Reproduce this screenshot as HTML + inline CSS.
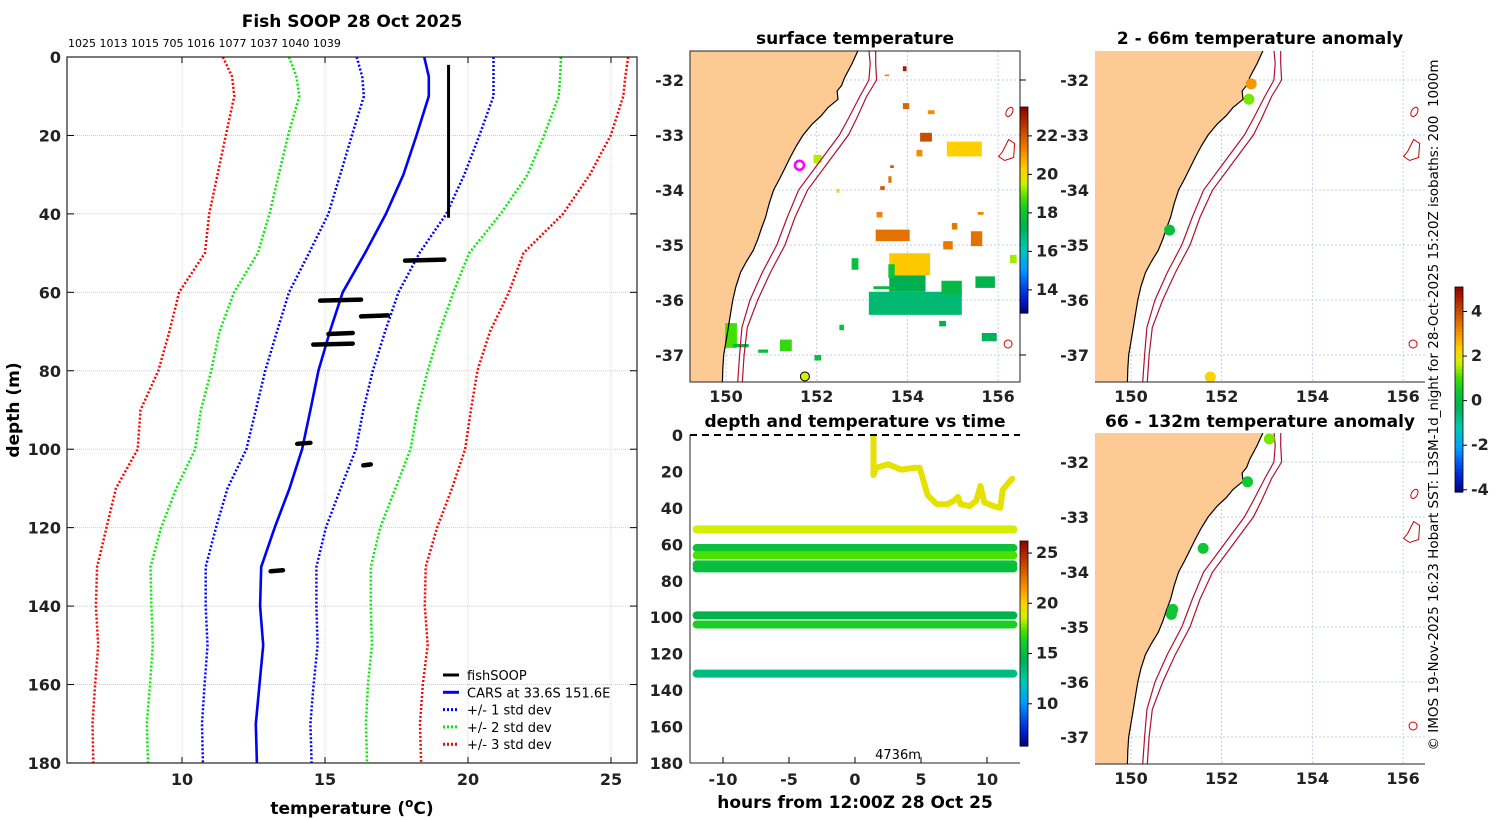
<!DOCTYPE html>
<html><head><meta charset="utf-8">
<style>
html,body{margin:0;padding:0;background:#fff;}
svg{display:block;font-family:"DejaVu Sans","Liberation Sans",sans-serif;}
.tk{font-size:16px;font-weight:bold;fill:#222;}
.ttl{font-size:17px;font-weight:bold;fill:#000;}
</style></head>
<body>
<svg id="fig" width="1500" height="820" viewBox="0 0 1500 820" xmlns="http://www.w3.org/2000/svg">
<defs>
<clipPath id="clipMain"><rect x="67" y="57" width="570" height="706"/></clipPath>
<clipPath id="clipM1"><rect x="690" y="51" width="330" height="331"/></clipPath>
<clipPath id="clipM2"><rect x="1095" y="51" width="330" height="331"/></clipPath>
<clipPath id="clipM3"><rect x="1095" y="433" width="330" height="331"/></clipPath>
<clipPath id="clipT"><rect x="690" y="433" width="330" height="332"/></clipPath>
</defs>
</svg>
<script>
// ---------- main profile data ----------
const profDepths = [0,5,10,20,30,40,50,60,70,80,90,100,110,120,130,140,150,160,170,180];
const carsMean = [18.47,18.63,18.63,18.2,17.74,17.13,16.4,15.62,15.17,14.77,14.49,14.2,13.76,13.24,12.77,12.73,12.84,12.71,12.58,12.62];
const std1Lo = [16.11,16.3,16.36,15.94,15.53,15.12,14.44,13.74,13.32,12.91,12.58,12.25,11.59,11.19,10.83,10.83,10.89,10.79,10.7,10.73];
const std1Hi = [20.89,20.89,20.89,20.4,19.87,19.24,18.3,17.57,17.1,16.67,16.34,16.08,15.55,15.03,14.7,14.7,14.74,14.6,14.49,14.53];
const std2Lo = [13.74,14.0,14.1,13.71,13.38,13.06,12.65,11.82,11.31,11.02,10.66,10.46,9.8,9.27,8.9,8.93,8.98,8.88,8.77,8.81];
const std2Hi = [23.25,23.22,23.17,22.66,22.08,21.14,20.04,19.49,19.0,18.59,18.23,17.99,17.46,16.93,16.6,16.6,16.64,16.5,16.43,16.47];
const std3Lo = [11.43,11.75,11.83,11.53,11.24,10.95,10.8,9.9,9.56,9.17,8.55,8.45,7.69,7.36,7.03,6.99,7.07,6.96,6.87,6.9];
const std3Hi = [25.6,25.5,25.43,24.99,24.26,23.32,21.94,21.43,20.77,20.33,20.1,19.9,19.44,18.92,18.52,18.49,18.59,18.42,18.32,18.36];
// fishSOOP obs: segments [tempStart, tempEnd, depth]
const obsT1 = [17.8,14.83,16.26,15.12,14.59,14.03,16.34,13.1];
const obsT2 = [19.17,16.26,17.2,15.97,15.97,14.49,16.6,13.53];
const obsDepth = [51.8,62,66,70.5,73.2,98.5,104,131];
const surfT = 19.32, surfD1 = 2, surfD2 = 41;
const depthTicks = [0,20,40,60,80,100,120,140,160,180];
const tempTicks = [10,15,20,25];
// ---------- map data ----------
const coastLat = [-31.45,-31.7,-31.95,-32.1,-32.2,-32.35,-32.5,-32.65,-32.8,-33.0,-33.2,-33.4,-33.6,-33.8,-34.0,-34.25,-34.5,-34.7,-34.9,-35.1,-35.3,-35.5,-35.75,-36.0,-36.25,-36.5,-36.75,-37.0,-37.25,-37.5,-37.6];
const coastLon = [152.92,152.78,152.62,152.55,152.45,152.47,152.25,152.1,151.9,151.7,151.55,151.42,151.3,151.18,151.05,150.95,150.87,150.78,150.7,150.6,150.45,150.32,150.22,150.15,150.1,150.05,150.0,149.95,149.93,149.92,149.92];
const iso200Lat = [-31.45,-31.7,-32.0,-32.3,-32.7,-33.0,-33.5,-34.0,-34.5,-35.0,-35.5,-36.0,-36.5,-37.0,-37.6];
const iso200Lon = [153.15,153.18,153.15,152.95,152.7,152.5,152.05,151.6,151.35,151.12,150.8,150.53,150.35,150.3,150.25];
const iso1000Lat = [-31.45,-31.7,-32.0,-32.3,-32.7,-33.0,-33.5,-34.0,-34.5,-35.0,-35.5,-36.0,-36.5,-37.0,-37.6];
const iso1000Lon = [153.3,153.3,153.32,153.1,152.88,152.7,152.25,151.8,151.52,151.3,150.98,150.7,150.47,150.4,150.35];
// SST patches: lon1, lat1, lon2, lat2, temperature
const sstLon1 = [153.15,153.6,154.75,153.6,153.58,153.3,155.4,154.28,154.2,154.87,154.79,152.77,155.5,155.64,149.98,150.15,150.71,151.19,156.26,151.93,153.9,153.5,153.9,153.62,153.4,153.58,152.44,153.32,154.98,154.45,155.55,153.25,154.7,151.95,152.5];
const sstLat1 = [-35.85,-35.55,-35.65,-35.15,-35.35,-34.72,-34.75,-32.96,-33.27,-33.12,-34.93,-35.24,-35.57,-36.6,-36.42,-36.8,-36.9,-36.72,-35.18,-33.36,-31.75,-31.9,-32.42,-33.55,-33.93,-33.75,-33.98,-34.4,-34.6,-32.55,-34.4,-35.75,-36.38,-37.0,-36.45];
const sstLon2 = [155.2,154.4,155.2,154.5,153.72,154.05,155.65,154.54,154.33,155.64,155.0,152.92,155.93,155.97,150.24,150.5,150.93,151.45,156.41,152.11,153.98,153.6,154.04,153.7,153.5,153.65,152.5,153.45,155.1,154.6,155.68,153.7,154.85,152.1,152.6];
const sstLat2 = [-36.27,-35.85,-35.9,-35.55,-35.6,-34.93,-35.02,-33.12,-33.39,-33.39,-35.08,-35.45,-35.78,-36.75,-36.87,-36.86,-36.96,-36.93,-35.33,-33.51,-31.84,-31.93,-32.53,-33.6,-34.0,-33.87,-34.05,-34.5,-34.72,-32.62,-34.45,-35.8,-36.48,-37.1,-36.55];
const sstTemp = [16.9,17.3,17.6,20.4,18.0,21.6,21.6,22.2,21.2,20.3,21.5,17.8,17.4,17.2,18.8,17.6,17.8,18.6,19.3,19.4,23.0,21.3,21.8,22.0,22.0,21.6,20.4,21.3,21.5,21.2,21.3,17.6,17.4,17.8,17.8];
// anomaly dots
const a1Lon = [152.65,152.6,150.85,151.75];
const a1Lat = [-32.07,-32.35,-34.73,-37.4];
const a1Val = [3.0,1.3,0.2,2.3];
const a2Lon = [153.05,152.57,151.59,150.92,150.89];
const a2Lat = [-31.58,-32.36,-33.57,-34.68,-34.77];
const a2Val = [1.3,0.5,0.4,0.4,0.4];
const latTicks = [-32,-33,-34,-35,-36,-37];
const lonTicks = [150,152,154,156];
// ---------- time panel ----------
const trackDepths = [51.8,62,66,71,73.2,99,104,131];
const trackTemps = [18.8,15.6,17.3,15.5,15.3,14.6,16.3,13.4];
const topHours = [1.4,1.4,1.6,2.5,3.5,4.5,4.9,5.5,6.2,7.0,7.5,7.8,8.0,8.7,9.2,9.5,9.8,10.5,11.0,11.2,11.9];
const topDepths = [1,22,18,16,19,18,18,33,38,38,36,34,38,39,36,28,37,39,40,30,24];
const topTemp = 19.3;
const hourTicks = [-10,-5,0,5,10];
const sstCbTicks = [22,20,18,16,14];
const timeCbTicks = [25,20,15,10];
const anomCbTicks = [4,2,0,-2,-4];

// ---------- helpers ----------
const NS = 'http://www.w3.org/2000/svg';
const svg = document.getElementById('fig');
function mk(tag, attrs, parent, txt){
  const e = document.createElementNS(NS, tag);
  for (const k in attrs) e.setAttribute(k, attrs[k]);
  if (txt !== undefined) e.textContent = txt;
  (parent || svg).appendChild(e);
  return e;
}
const stops = [[0,'#000080'],[0.1,'#0030e0'],[0.22,'#00a0ff'],[0.32,'#00c8b0'],[0.42,'#00b050'],[0.5,'#10c830'],[0.56,'#40e000'],[0.63,'#d0f000'],[0.7,'#ffd000'],[0.8,'#f08000'],[0.9,'#c04000'],[1,'#900000']];
function hex(c){return [parseInt(c.substr(1,2),16),parseInt(c.substr(3,2),16),parseInt(c.substr(5,2),16)];}
function cmap(v){
  v = Math.max(0, Math.min(1, v));
  for (let i=1;i<stops.length;i++){
    if (v <= stops[i][0]){
      const a = hex(stops[i-1][1]), b = hex(stops[i][1]);
      const f = (v-stops[i-1][0])/(stops[i][0]-stops[i-1][0]);
      return 'rgb(' + a.map((x,j)=>Math.round(x+(b[j]-x)*f)).join(',') + ')';
    }
  }
  return stops[stops.length-1][1];
}
function colorbar(x, y, w, h, vmin, vmax, ticks, name){
  const g = mk('g', {});
  
  
  const n = 60;
  for (let i=0;i<n;i++){
    mk('rect',{x:x,y:y+h-(i+1)*h/n,width:w,height:h/n+0.6,fill:cmap((i+0.5)/n)},g);
  }
  mk('rect',{x:x,y:y,width:w,height:h,fill:'none',stroke:'#000','stroke-width':0.8},g);
  ticks.forEach(t=>{
    const ty = y + h - (t-vmin)/(vmax-vmin)*h;
    mk('line',{x1:x+w,y1:ty,x2:x+w+4,y2:ty,stroke:'#000'},g);
    const tl = mk('text',{x:x+w+8,y:ty+5,class:'tk','font-size':'14'},g,String(t));
    
    
  });
}

// ================= MAIN PROFILE PANEL =================
const mx = t => 182 + (t-10)*28.6;
const my = d => 57 + d*3.922;
const mainG = mk('g', {});


let tt = mk('text',{x:352,y:27,class:'ttl','text-anchor':'middle'},mainG,'Fish SOOP 28 Oct 2025');
 
tt = mk('text',{x:68,y:47,'font-size':'11',fill:'#000'},mainG,'1025 1013 1015 705 1016 1077 1037 1040 1039');
 
depthTicks.forEach(d=>{
  if (d>0 && d<180) mk('line',{x1:67,x2:637,y1:my(d),y2:my(d),stroke:'#c6cbe6','stroke-width':1,'stroke-dasharray':'1,1'},mainG);
  mk('line',{x1:67,x2:74,y1:my(d),y2:my(d),stroke:'#000'},mainG);
  mk('line',{x1:630,x2:637,y1:my(d),y2:my(d),stroke:'#000'},mainG);
  const l = mk('text',{x:61,y:my(d)+6,class:'tk','text-anchor':'end'},mainG,String(d));
   
});
tempTicks.forEach(t=>{
  mk('line',{x1:mx(t),x2:mx(t),y1:57,y2:763,stroke:'#e8d0c8','stroke-width':1,'stroke-dasharray':'1,1'},mainG);
  mk('line',{x1:mx(t),x2:mx(t),y1:57,y2:63,stroke:'#000'},mainG);
  mk('line',{x1:mx(t),x2:mx(t),y1:757,y2:763,stroke:'#000'},mainG);
  const l = mk('text',{x:mx(t),y:785,class:'tk','text-anchor':'middle'},mainG,String(t));
   
});
const mainPlot = mk('g',{'clip-path':'url(#clipMain)'},mainG);
function profLine(arr, color, dashed, name){
  const pts = arr.map((t,i)=>mx(t).toFixed(1)+','+my(profDepths[i]).toFixed(1)).join(' ');
  const p = mk('polyline',{points:pts,fill:'none',stroke:color,'stroke-width':dashed?2.5:2.6,'stroke-dasharray':dashed?'2,2':'none'},mainPlot);
  
  
}
profLine(std3Lo,'#ff0000',true,'std3-low-line');
profLine(std3Hi,'#ff0000',true,'std3-high-line');
profLine(std2Lo,'#00ee00',true,'std2-low-line');
profLine(std2Hi,'#00ee00',true,'std2-high-line');
profLine(std1Lo,'#0000ff',true,'std1-low-line');
profLine(std1Hi,'#0000ff',true,'std1-high-line');
profLine(carsMean,'#0000ff',false,'cars-mean-line');
let sl = mk('line',{x1:mx(surfT),x2:mx(surfT),y1:my(surfD1),y2:my(surfD2),stroke:'#000','stroke-width':3},mainPlot);
 
obsDepth.forEach((d,i)=>{
  const o = mk('line',{x1:mx(obsT1[i]),x2:mx(obsT2[i]),y1:my(d)+0.5,y2:my(d)-0.5,stroke:'#000','stroke-width':4.5,'stroke-linecap':'round'},mainPlot);
   
});
mk('rect',{x:67,y:57,width:570,height:706,fill:'none',stroke:'#222','stroke-width':1.2},mainG);
tt = mk('text',{x:0,y:0,class:'ttl','text-anchor':'middle',transform:'translate(19,410) rotate(-90)'},mainG,'depth (m)');
 
tt = mk('text',{x:352,y:814,class:'ttl','text-anchor':'middle'},mainG);
 
mk('tspan',{},tt,'temperature (');
mk('tspan',{dy:'-7','font-size':'12'},tt,'o');
mk('tspan',{dy:'7'},tt,'C)');
// legend
const leg = mk('g',{});
 
[['fishSOOP','#000',false],['CARS at 33.6S 151.6E','#0000ff',false],['+/- 1 std dev','#0000ff',true],['+/- 2 std dev','#00ee00',true],['+/- 3 std dev','#ff0000',true]].forEach((e,i)=>{
  const yy = 675 + i*17.3;
  mk('line',{x1:443,x2:459,y1:yy,y2:yy,stroke:e[1],'stroke-width':3,'stroke-dasharray':e[2]?'2,2':'none'},leg);
  const t = mk('text',{x:467,y:yy+5,'font-size':'13',fill:'#000'},leg,e[0]);
   
});

// ================= MAPS =================
function drawMap(x0, y0, clipId, name, fullBox){
  const lx = lon => x0 + 36 + (lon-150)*45.35;
  const ly = lat => y0 + 29 + (-32-lat)*55;
  const g = mk('g',{});
  
  
  const inner = mk('g',{'clip-path':'url(#'+clipId+')'},g);
  latTicks.forEach(l=>mk('line',{x1:x0,x2:x0+330,y1:ly(l),y2:ly(l),stroke:'#c6cbe6','stroke-dasharray':'2,2'},inner));
  lonTicks.forEach(l=>mk('line',{x1:lx(l),x2:lx(l),y1:y0,y2:y0+331,stroke:'#c6cbe6','stroke-dasharray':'2,2'},inner));
  const cpts = coastLon.map((lo,i)=>lx(lo).toFixed(1)+','+ly(coastLat[i]).toFixed(1));
  const land = mk('polygon',{points:cpts.join(' ')+' '+lx(148.9)+','+ly(-37.7)+' '+lx(148.9)+','+ly(-31.3),fill:'#fdca94',stroke:'none'},inner);
   
  const coast = mk('polyline',{points:cpts.join(' '),fill:'none',stroke:'#000','stroke-width':1.2},inner);
   
  [[iso200Lon,iso200Lat],[iso1000Lon,iso1000Lat]].forEach(a=>{
    const p = mk('polyline',{points:a[0].map((lo,i)=>lx(lo).toFixed(1)+','+ly(a[1][i]).toFixed(1)).join(' '),fill:'none',stroke:'#b01030','stroke-width':1.2},inner);
     
  });
  mk('ellipse',{cx:lx(156.25),cy:ly(-32.58),rx:3,ry:5,fill:'none',stroke:'#c00',transform:'rotate(30 '+lx(156.25)+' '+ly(-32.58)+')'},inner);
  mk('path',{d:'M'+lx(156.1)+','+ly(-33.3)+' l6,-12 l6,4 l-1,14 l-9,3 l-6,-4 z',fill:'none',stroke:'#c00'},inner);
  mk('circle',{cx:lx(156.22),cy:ly(-36.8),r:4,fill:'none',stroke:'#c00'},inner);
  if (fullBox) mk('rect',{x:x0,y:y0,width:330,height:331,fill:'none',stroke:'#222'},g);
  else mk('line',{x1:x0,x2:x0+330,y1:y0+331,y2:y0+331,stroke:'#222'},g);
  latTicks.forEach(l=>{
    const t = mk('text',{x:x0-6,y:ly(l)+6,class:'tk','text-anchor':'end'},g,String(l));
     
    if (fullBox){ mk('line',{x1:x0+330,x2:x0+336,y1:ly(l),y2:ly(l),stroke:'#000'},g); }
  });
  lonTicks.forEach(l=>{
    const t = mk('text',{x:lx(l),y:y0+351,class:'tk','text-anchor':'middle'},g,String(l));
     
  });
  return {g:g, inner:inner, lx:lx, ly:ly};
}

// map 1: SST
const m1 = drawMap(690, 51, 'clipM1', 'surface-temperature-map', true);
tt = mk('text',{x:855,y:44,class:'ttl','text-anchor':'middle'},m1.g,'surface temperature');
 
const sstG = mk('g',{});
m1.inner.insertBefore(sstG, m1.inner.children[m1.inner.children.length-6]);
sstTemp.forEach((t,i)=>{
  const x1 = m1.lx(sstLon1[i]), x2 = m1.lx(sstLon2[i]), y1 = m1.ly(sstLat1[i]), y2 = m1.ly(sstLat2[i]);
  const r = mk('rect',{x:Math.min(x1,x2),y:Math.min(y1,y2),width:Math.abs(x2-x1),height:Math.abs(y2-y1),fill:cmap((t-12.8)/10.7)},sstG);
   
});
let mc = mk('circle',{cx:m1.lx(151.62),cy:m1.ly(-33.55),r:4.5,fill:'none',stroke:'#ff00ff','stroke-width':2.5},m1.inner);
 
mc = mk('circle',{cx:m1.lx(151.74),cy:m1.ly(-37.39),r:4.5,fill:'#d8f000',stroke:'#000','stroke-width':1},m1.inner);
 
colorbar(1020,107,8,206,12.8,23.5,sstCbTicks,'sst-colorbar');

// map 2 & 3: anomalies
const m2 = drawMap(1095, 51, 'clipM2', 'anomaly-map-2-66m', false);
tt = mk('text',{x:1260,y:44,class:'ttl','text-anchor':'middle'},m2.g,'2 - 66m temperature anomaly');
 
a1Val.forEach((v,i)=>{
  const c = mk('circle',{cx:m2.lx(a1Lon[i]),cy:m2.ly(a1Lat[i]),r:5.5,fill:cmap((v+4.1)/9.2)},m2.inner);
   
});
const m3 = drawMap(1095, 433, 'clipM3', 'anomaly-map-66-132m', false);
tt = mk('text',{x:1260,y:427,class:'ttl','text-anchor':'middle'},m3.g,'66 - 132m temperature anomaly');
 
a2Val.forEach((v,i)=>{
  const c = mk('circle',{cx:m3.lx(a2Lon[i]),cy:m3.ly(a2Lat[i]),r:5.5,fill:cmap((v+4.1)/9.2)},m3.inner);
   
});
colorbar(1455,287,8,205,-4.1,5.1,anomCbTicks,'anomaly-colorbar');

// ================= TIME PANEL =================
const tx = h => 855 + h*13.2;
const ty = d => 435 + d*1.822;
const tG = mk('g',{});
 
tt = mk('text',{x:855,y:427,class:'ttl','text-anchor':'middle'},tG,'depth and temperature vs time');
 
const tIn = mk('g',{'clip-path':'url(#clipT)'},tG);
trackDepths.forEach((d,i)=>{
  const l = mk('line',{x1:tx(-12),x2:tx(12),y1:ty(d),y2:ty(d),stroke:cmap((trackTemps[i]-5.8)/20.4),'stroke-width':8,'stroke-linecap':'round'},tIn);
   
});
const tp = mk('polyline',{points:topHours.map((h,i)=>tx(h).toFixed(1)+','+ty(topDepths[i]).toFixed(1)).join(' '),fill:'none',stroke:cmap((topTemp-5.8)/20.4),'stroke-width':6,'stroke-linejoin':'round','stroke-linecap':'round'},tIn);
 
mk('line',{x1:690,x2:690,y1:435,y2:763,stroke:'#222'},tG);
mk('line',{x1:690,x2:1020,y1:763,y2:763,stroke:'#222'},tG);
mk('line',{x1:690,x2:1020,y1:435,y2:435,stroke:'#000','stroke-width':2,'stroke-dasharray':'7,5'},tG);
depthTicks.forEach(d=>{
  const l = mk('text',{x:683,y:ty(d)+6,class:'tk','text-anchor':'end'},tG,String(d));
   
});
hourTicks.forEach(h=>{
  mk('line',{x1:tx(h),x2:tx(h),y1:757,y2:763,stroke:'#000'},tG);
  const l = mk('text',{x:tx(h),y:785,class:'tk','text-anchor':'middle'},tG,String(h));
   
});
tt = mk('text',{x:898,y:759,'font-size':'13','text-anchor':'middle',fill:'#000'},tG,'4736m');
 
tt = mk('text',{x:855,y:808,class:'ttl','text-anchor':'middle'},tG,'hours from 12:00Z 28 Oct 25');
 
colorbar(1020,541,8,205,5.8,26.2,timeCbTicks,'time-temperature-colorbar');

// credit text
tt = mk('text',{x:0,y:0,'font-size':'13.5',fill:'#000','text-anchor':'middle',transform:'translate(1438,405) rotate(-90)'},svg,'© IMOS 19-Nov-2025 16:23 Hobart SST: L3SM-1d_night for 28-Oct-2025 15:20Z isobaths: 200\u00a0\u00a01000m');
 
</script>
</body></html>
